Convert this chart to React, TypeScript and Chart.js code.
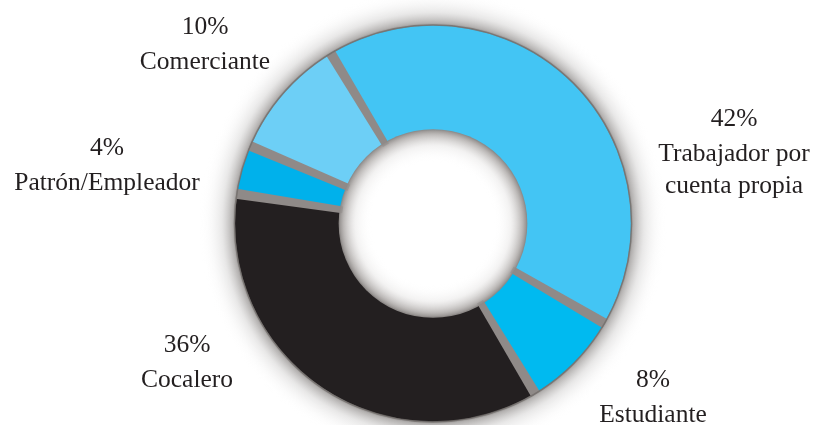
import React, { useEffect, useRef } from "react";
import { Chart, registerables } from "chart.js";

Chart.register(...registerables);

const categories = ["Trabajador por cuenta propia", "Estudiante", "Cocalero", "Patrón/Empleador", "Comerciante"];
const values = [42, 8, 36, 4, 10];
const labelLines = [
  ["42%", "Trabajador por", "cuenta propia"],
  ["8%", "Estudiante"],
  ["36%", "Cocalero"],
  ["4%", "Patrón/Empleador"],
  ["10%", "Comerciante"],
];
const colors = ["#43c5f4", "#00baf0", "#231f20", "#00b1eb", "#6dcff6"];
// label anchor positions (centre of first line)
const labelPos = [
  [734, 119],
  [653, 380],
  [187, 345],
  [107, 148],
  [205, 27],
];

const GREY = "#8f8a88";

const shadowPlugin = {
  id: "ringShadow",
  beforeDatasetsDraw(chart: any) {
    const meta = chart.getDatasetMeta(0);
    const arc = meta.data[0];
    if (!arc) return;
    const { x, y, outerRadius } = arc.getProps(["x", "y", "outerRadius"], true);
    const ctx = chart.ctx;
    ctx.save();
    const g = ctx.createRadialGradient(x, y, outerRadius - 2, x, y, outerRadius + 36);
    g.addColorStop(0, "rgba(95,90,88,0.9)");
    g.addColorStop(0.12, "rgba(130,126,124,0.6)");
    g.addColorStop(0.4, "rgba(180,178,177,0.3)");
    g.addColorStop(0.75, "rgba(225,224,224,0.1)");
    g.addColorStop(1, "rgba(255,255,255,0)");
    ctx.beginPath();
    ctx.arc(x, y, outerRadius + 36, 0, Math.PI * 2);
    ctx.arc(x, y, outerRadius - 2, 0, Math.PI * 2, true);
    ctx.fillStyle = g;
    ctx.fill();
    ctx.restore();
  },
  afterDatasetsDraw(chart: any) {
    const meta = chart.getDatasetMeta(0);
    const arc0 = meta.data[0];
    if (!arc0) return;
    const { x, y, innerRadius, outerRadius } = arc0.getProps(["x", "y", "innerRadius", "outerRadius"], true);
    const ctx = chart.ctx;
    ctx.save();
    // wedge-shaped separators between slices (slightly exploded look)
    ctx.fillStyle = GREY;
    const r1 = innerRadius - 2;
    const r2 = outerRadius + 1;
    const h1 = 3.5;
    const h2 = 5;
    meta.data.forEach((a: any) => {
      const { startAngle } = a.getProps(["startAngle"], true);
      const c = Math.cos(startAngle);
      const s = Math.sin(startAngle);
      const px = -s;
      const py = c;
      ctx.beginPath();
      ctx.moveTo(x + c * r1 + px * h1, y + s * r1 + py * h1);
      ctx.lineTo(x + c * r2 + px * h2, y + s * r2 + py * h2);
      ctx.lineTo(x + c * r2 - px * h2, y + s * r2 - py * h2);
      ctx.lineTo(x + c * r1 - px * h1, y + s * r1 - py * h1);
      ctx.closePath();
      ctx.fill();
    });
    // thin outer rim
    ctx.lineWidth = 1.5;
    ctx.strokeStyle = "rgba(110,105,103,0.7)";
    ctx.beginPath();
    ctx.arc(x, y, outerRadius + 0.5, 0, Math.PI * 2);
    ctx.stroke();
    // inner hole shading
    const g = ctx.createRadialGradient(x, y, innerRadius - 32, x, y, innerRadius + 1);
    g.addColorStop(0, "rgba(255,255,255,0)");
    g.addColorStop(0.5, "rgba(220,218,217,0.35)");
    g.addColorStop(0.85, "rgba(170,166,164,0.8)");
    g.addColorStop(1, "rgba(140,136,134,1)");
    ctx.beginPath();
    ctx.arc(x, y, innerRadius + 1, 0, Math.PI * 2);
    ctx.fillStyle = g;
    ctx.fill();
    // labels
    ctx.fillStyle = "#231f20";
    ctx.font = "25.5px 'Liberation Serif', serif";
    ctx.textAlign = "center";
    ctx.textBaseline = "middle";
    labelLines.forEach((lines, i) => {
      const [lx, ly] = labelPos[i];
      lines.forEach((t, j) => {
        const dy = j === 0 ? 0 : 35 + (j - 1) * 32;
        ctx.fillText(t, lx, ly + dy);
      });
    });
    ctx.restore();
  },
};

export default function App() {
  const ref = useRef<HTMLCanvasElement | null>(null);
  useEffect(() => {
    if (!ref.current) return;
    const chart = new Chart(ref.current, {
      type: "doughnut",
      data: {
        labels: categories,
        datasets: [
          {
            data: values,
            backgroundColor: colors,
            borderWidth: 0,
          },
        ],
      },
      options: {
        responsive: false,
        animation: false,
        rotation: -31,
        radius: 198,
        cutout: 95,
        layout: { padding: { left: 230, right: 178, top: 22, bottom: 0 } },
        plugins: { legend: { display: false }, tooltip: { enabled: false } },
      },
      plugins: [shadowPlugin],
    });
    return () => chart.destroy();
  }, []);
  return (
    <div style={{ position: "fixed", left: 0, top: 0, width: 814, height: 425, background: "#fff" }}>
      <canvas ref={ref} width={814} height={425} style={{ width: 814, height: 425 }} />
    </div>
  );
}
